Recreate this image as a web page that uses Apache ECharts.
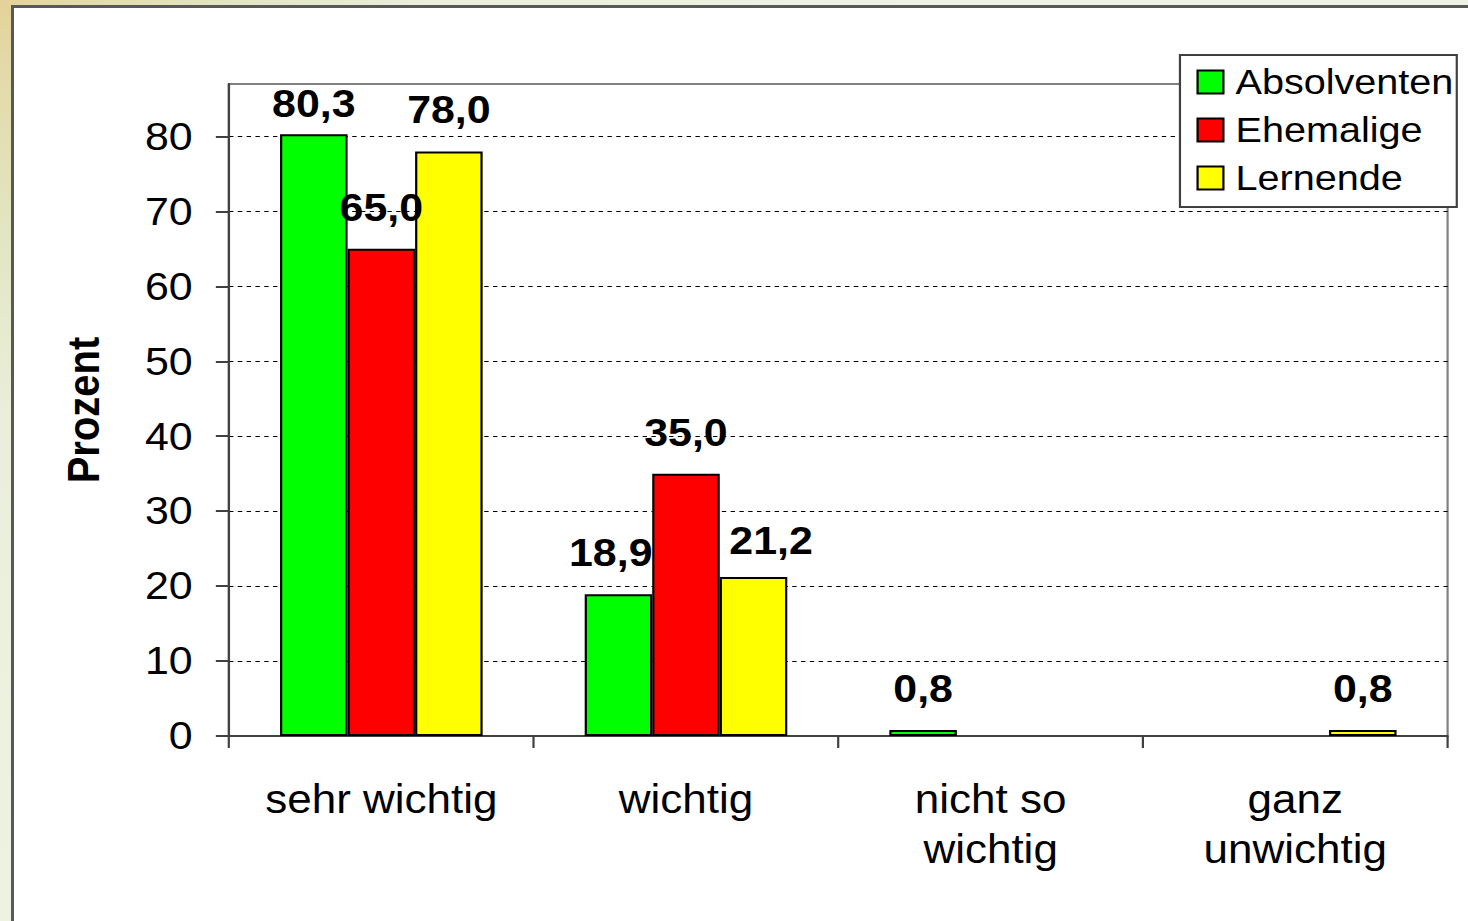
<!DOCTYPE html>
<html>
<head>
<meta charset="utf-8">
<script src="https://cdn.jsdelivr.net/npm/echarts@6/dist/echarts.min.js"></script>
<style>
  html, body { margin: 0; padding: 0; width: 1468px; height: 921px; overflow: hidden; }
  body {
    background: radial-gradient(circle at 0 0, #e4d198 0px, #e3d9a8 60px, #e2e5c0 220px, #eaeedb 420px, #eef2e3 900px);
  }
  #panel {
    position: absolute; left: 11px; top: 5px; width: 1500px; height: 1000px;
    background: #ffffff; border-left: 3px solid #585858; border-top: 3px solid #585858;
  }
  #chart {
    position: absolute; left: 0; top: 0; width: 1334.5px; height: 921px;
    transform: scaleX(1.1); transform-origin: 0 0;
  }
</style>
</head>
<body>
<div id="panel"></div>
<div id="chart"></div>
<script>
const categories = ['sehr wichtig', 'wichtig', 'nicht so\nwichtig', 'ganz\nunwichtig'];
const seriesNames = ['Absolventen', 'Ehemalige', 'Lernende'];
const absolventen = [80.3, 18.9, 0.8, null];
const ehemalige = [65.0, 35.0, null, null];
const lernende = [78.0, 21.2, null, 0.8];
const yTickValues = [0, 10, 20, 30, 40, 50, 60, 70, 80];
const colors = ['#00ff00', '#ff0000', '#ffff00'];

// label placement tweaks (series index - category index)
const labelTweaks = {
  '0-0': { distance: 11 },
  '0-1': { offset: [-7, 0] },
  '2-1': { offset: [16, 0], distance: 17 }
};

const FONT = '"Liberation Sans", Arial, sans-serif';
const chart = echarts.init(document.getElementById('chart'), null, { renderer: 'svg' });

function fmt(v) { return v.toFixed(1).replace('.', ','); }

function buildData(arr, sIdx) {
  return arr.map(function (v, i) {
    if (v === null) return null;
    const tw = labelTweaks[sIdx + '-' + i];
    if (tw) return { value: v, label: tw };
    return v;
  });
}

const allSeries = [absolventen, ehemalige, lernende].map(function (arr, sIdx) {
  return {
    name: seriesNames[sIdx],
    type: 'bar',
    barGap: '0%',
    barCategoryGap: '33.5%',
    data: buildData(arr, sIdx),
    itemStyle: { color: colors[sIdx], borderColor: '#000000', borderWidth: 2 },
    label: {
      show: true,
      position: 'top',
      distance: 22,
      fontFamily: FONT,
      fontSize: 39,
      fontWeight: 'bold',
      color: '#000000',
      formatter: function (p) { return fmt(p.value); }
    }
  };
});

chart.setOption({
  animation: false,
  backgroundColor: 'transparent',
  grid: {
    left: 208.2, right: 19, top: 84, bottom: 185,
    containLabel: false,
    show: true, borderColor: '#808080', borderWidth: 2, backgroundColor: 'transparent'
  },
  legend: {
    orient: 'vertical',
    left: 1072.7,
    top: 55,
    data: seriesNames,
    icon: 'rect',
    itemWidth: 23.5,
    itemHeight: 23,
    itemGap: 12,
    padding: [9, 3, 11, 15],
    borderColor: '#404040',
    borderWidth: 2,
    backgroundColor: '#ffffff',
    textStyle: { fontFamily: FONT, fontSize: 36, color: '#000000', padding: [0, 0, 0, 6] }
  },
  xAxis: {
    type: 'category',
    data: categories,
    axisLine: { show: true, lineStyle: { color: '#404040', width: 2 } },
    axisTick: { show: true, length: 12, lineStyle: { color: '#404040', width: 2 } },
    axisLabel: {
      interval: 0, margin: 38, fontFamily: FONT, fontSize: 40, lineHeight: 50, color: '#000000'
    },
    splitLine: { show: false }
  },
  yAxis: {
    type: 'value',
    min: 0, max: 87, interval: 10,
    name: 'Prozent',
    nameLocation: 'middle',
    nameRotate: 90,
    nameGap: 112,
    nameTextStyle: { fontFamily: FONT, fontSize: 40, fontWeight: 'bold', color: '#000000' },
    axisLine: { show: true, lineStyle: { color: '#404040', width: 2 } },
    axisTick: { show: true, length: 12, lineStyle: { color: '#404040', width: 2 }, customValues: yTickValues },
    axisLabel: {
      margin: 33, fontFamily: FONT, fontSize: 39, color: '#000000',
      customValues: yTickValues
    },
    splitLine: { show: true, lineStyle: { color: '#000000', width: 1, type: [4, 4] } }
  },
  series: allSeries
});
</script>
</body>
</html>
